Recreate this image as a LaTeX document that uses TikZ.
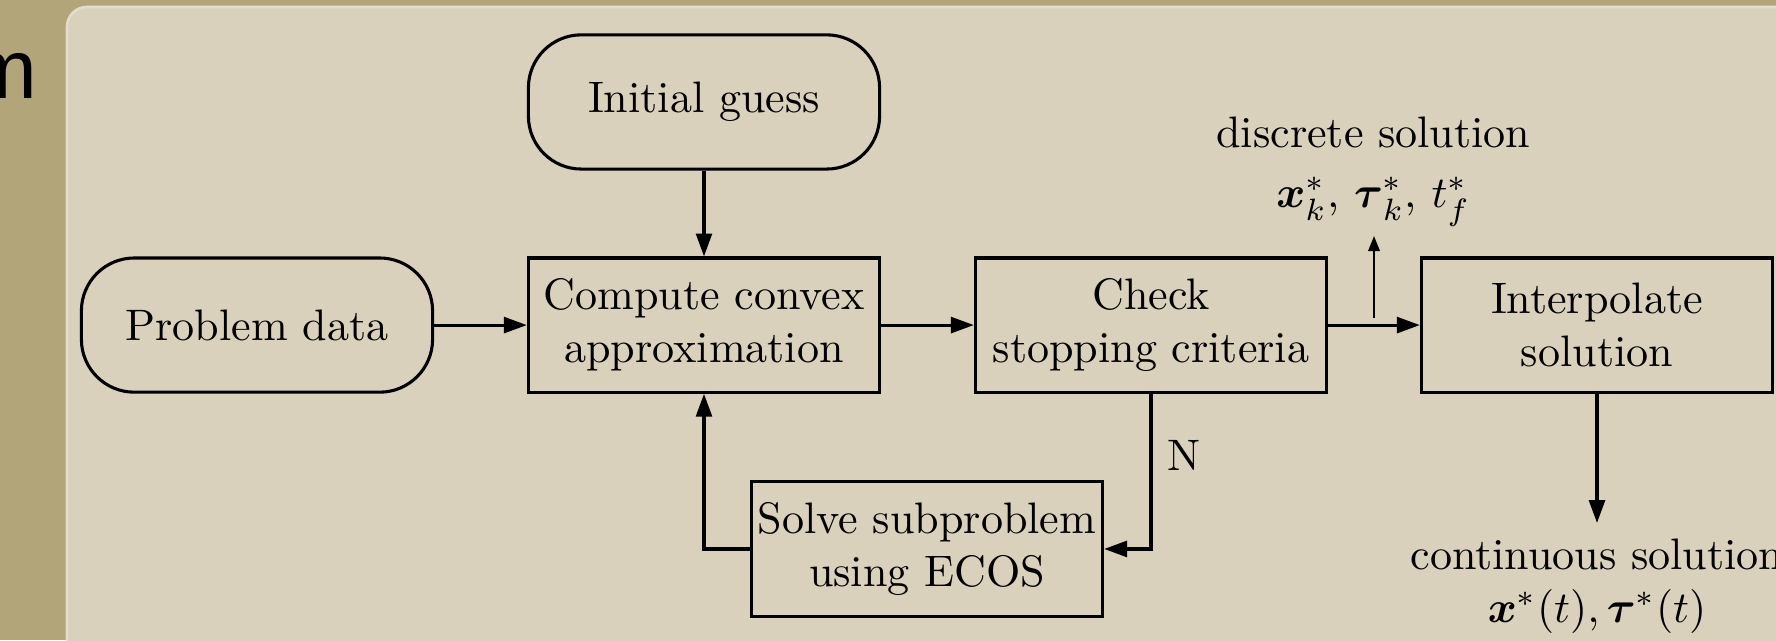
\documentclass[tikz,border=0pt]{standalone}
\usepackage{amsmath}
\usepackage{fontspec}
\newfontfamily\headfont{Liberation Sans}
\usetikzlibrary{arrows.meta,calc}
\definecolor{tanbg}{HTML}{B3A57A}
\definecolor{panelbg}{HTML}{DAD1BD}
\definecolor{paneledge}{HTML}{E4DCCB}
\tikzset{
  proc/.style={draw,line width=0.7pt,minimum width=2.8cm,minimum height=1.07cm,align=center},
  term/.style={proc,rounded corners=12pt},
  flow/.style={-{Triangle[length=5.2pt,width=3.6pt]},line width=0.7pt},
  thinflow/.style={-{Triangle[length=3.4pt,width=2.6pt]},line width=0.45pt},
}
\begin{document}
\begin{tikzpicture}

        \useasboundingbox (0,0) rectangle (14.16,5.103);
        \clip (0,0) rectangle (14.16,5.103);
        \fill[tanbg] (0,0) rectangle (14.16,5.103); %background
        \filldraw[fill=panelbg,draw=paneledge,line width=0.6pt,rounded corners=4.5pt] (0.534,-0.3) rectangle (14.4,5.047); %panel
        \node[anchor=base west,inner sep=0,font=\headfont\fontsize{19}{23}\selectfont] (head) at (-0.263,4.321) {m}; %cut title

        \node[term] (prob) at (2.049,2.511) {Problem data}; %start
        \node[term] (init) at (5.613,4.290) {Initial guess};
        \node[proc] (comp) at (5.613,2.511) {Compute convex\\ approximation};
        \node[proc] (check) at (9.177,2.511) {Check\\ stopping criteria};
        \node[proc] (interp) at (12.733,2.511) {Interpolate\\ solution};
        \node[proc,inner xsep=1pt] (solve) at (7.391,0.726) {Solve subproblem\\ using ECOS}; %loop
        \node[align=center,anchor=south,inner ysep=2pt] (disc) at (10.95,3.221) {discrete solution\\[1.6pt] $\boldsymbol{x}^*_k$, $\boldsymbol{\tau}^*_k$, $t^*_f$};
        \node[align=center,anchor=north] (cont) at (12.733,0.933) {continuous solution\\ $\boldsymbol{x}^*(t), \boldsymbol{\tau}^*(t)$};

        \draw[flow] (prob) -- (comp);
        \draw[flow] (init) -- (comp);
        \draw[flow] (comp) -- (check);
        \draw[flow] (check) -- (interp);
        \coordinate (split) at ($(check.east)!0.5!(interp.west)$); %branch point
        \draw[thinflow] ([yshift=1.5pt]split) -- (split |- disc.south);
        \draw[flow] (check.south) |- node[pos=0.2,right]{N} (solve.east);
        \draw[flow] (solve.west) -| (comp.south);
        \draw[flow] (interp) -- (cont);

\end{tikzpicture}
\end{document}
